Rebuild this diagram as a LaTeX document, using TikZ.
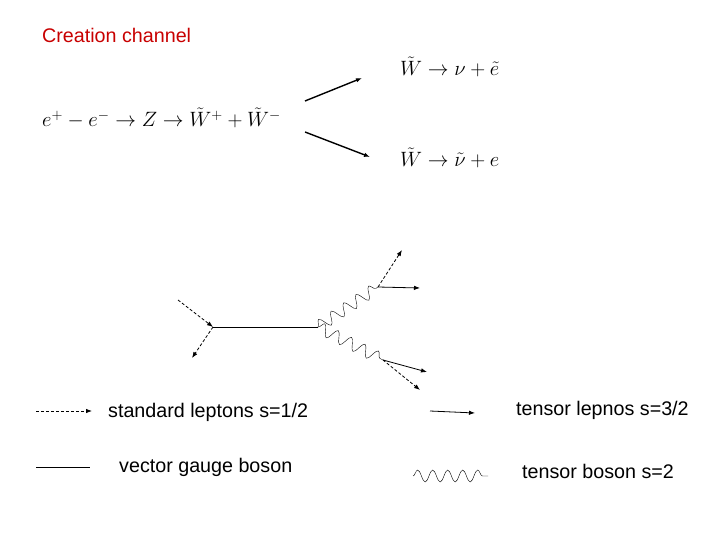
\documentclass[tikz,border=0pt]{standalone}
\usepackage{fontspec}
\setmainfont{Liberation Sans}
\usetikzlibrary{decorations.pathmorphing,arrows.meta}
\begin{document}
\begin{tikzpicture}[x=1pt,y=-1pt,
    lepton/.style={densely dashed,thick,-{Latex[length=6pt]}},
    tlepton/.style={thick,-{Latex[length=6pt]}},
    gauge/.style={thin},
    tboson/.style={thin,decorate,decoration={snake,segment length=15pt,amplitude=6pt}},
    label/.style={anchor=west,inner sep=0pt,font=\fontsize{19.7}{22}\selectfont},
    formula/.style={anchor=west,inner sep=0pt,font=\fontsize{20}{24}\selectfont}
    ]
    \useasboundingbox (0,0) rectangle (720,540);
    \node(title) [label,text={rgb,255:red,200;green,0;blue,0}] at (42,35) {Creation channel};

    % production and decays
    \node(prod) [formula] at (42,118) {$e^+ - e^- \to Z \to \tilde W^+ + \tilde W^-$};
    \node(decay1) [formula] at (400,67) {$\tilde W \to \nu + \tilde e$};
    \node(decay2) [formula] at (400,158) {$\tilde W \to \tilde\nu + e$};
    \coordinate(a1) at (305,101);
    \coordinate(a2) at (305,132);
    \draw[tlepton,line width=1.4pt] (a1) -- (362,78);
    \draw[tlepton,line width=1.4pt] (a2) -- (370,157);

    % diagram
    \coordinate(v) at (213,327);
    \coordinate(z) at (318,327);
    \coordinate(w1) at (378,287);
    \coordinate(w2) at (383,360);
    \coordinate(in) at (178,300);
    \coordinate(out) at (192,358);
    \coordinate(e1) at (402,250);
    \coordinate(s1) at (420,288);
    \coordinate(s2) at (427,372);
    \coordinate(e2) at (420,390);
    \draw[lepton] (in) -- (v);
    \draw[lepton] (v) -- (out);
    \draw[gauge] (v) -- (z);
    \draw[tboson] (z) -- (w1);
    \draw[tboson] (z) -- (w2);
    \draw[lepton] (w1) -- (e1);
    \draw[tlepton] (w1) -- (s1);
    \draw[tlepton] (w2) -- (s2);
    \draw[lepton] (w2) -- (e2);

    % legend
    \coordinate(l1) at (36,411);
    \coordinate(l2) at (36,467);
    \coordinate(l3) at (430,411);
    \coordinate(l4) at (413,476);
    \draw[lepton] (l1) -- ++(56,0);
    \node(t1) [label] at (108,412) {standard leptons s=1/2};
    \draw[gauge] (l2) -- ++(54,0);
    \node(t2) [label] at (119,467) {vector gauge boson};
    \draw[tlepton] (l3) -- ++(45,2);
    \node(t3) [label] at (516,410) {tensor lepnos s=3/2};
    \draw[tboson] (l4) -- ++(75,0);
    \node(t4) [label] at (522,471) {tensor boson s=2};
\end{tikzpicture}
\end{document}
